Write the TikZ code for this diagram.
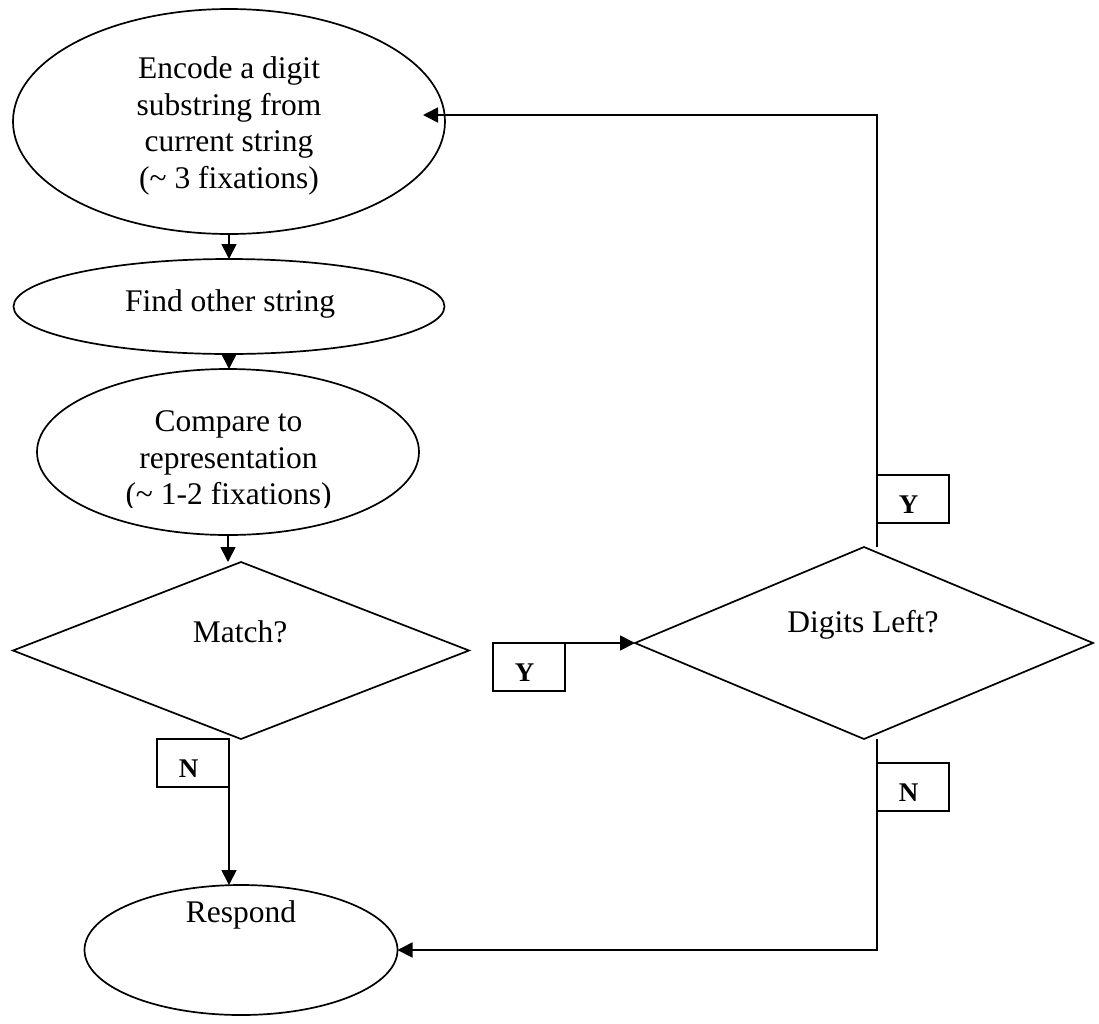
\documentclass[tikz,border=0pt]{standalone}
\usepackage{fontspec}
\setmainfont{Liberation Serif}
\usetikzlibrary{shapes.geometric,arrows.meta}
\begin{document}
\begin{tikzpicture}[x=1pt,y=-1pt,
  line width=1.7pt,
  shapebox/.style={draw, line width=1.7pt, inner sep=0pt, outer sep=0pt},
  ell/.style={shapebox, ellipse},
  dia/.style={shapebox, diamond},
  tag/.style={shapebox, rectangle, minimum width=72pt, minimum height=48pt,
    text height=38pt, text depth=10pt, font=\fontsize{27}{30}\selectfont\bfseries},
  txt/.style={inner sep=0pt, font=\fontsize{31.5}{36.5}\selectfont, align=center},
  flow/.style={line width=1.7pt, -{Triangle[length=15pt,width=15pt]}}
]
\useasboundingbox (0,0) rectangle (1099,1023);

% shapes
\node[ell, minimum width=432pt, minimum height=225pt] (enc) at (229,121.5) {};
\node[ell, minimum width=431pt, minimum height=95pt] (find) at (229,306.5) {};
\node[ell, minimum width=382pt, minimum height=166pt] (cmp) at (228,452) {};
\node[dia, minimum width=456pt, minimum height=177pt] (match) at (241,650.5) {};
\node[dia, minimum width=458pt, minimum height=192pt] (digits) at (864,643) {};
\node[ell, minimum width=313pt, minimum height=130pt] (resp) at (241,950) {};

% texts
\node[txt, anchor=north] (enct) at (229,48) {\rule{0pt}{30pt}Encode a digit\\substring from\\current string\\(\textasciitilde{} 3 fixations)};
\node[txt, anchor=base] (findt) at (230,311) {Find other string};
\begin{scope}
  \clip (0,380) rectangle (470,507);
  \node[txt, anchor=north] (cmpt) at (228.5,401) {\rule{0pt}{30pt}Compare to\\representation\\(\textasciitilde{} 1-2 fixations)};
\end{scope}
\node[txt, anchor=base] (matcht) at (240,642) {Match?};
\node[txt, anchor=base] (digitst) at (863,632) {Digits Left?};
\node[txt, anchor=base] (respt) at (241,922) {Respond};

% answer tags
\node[tag] (yA) at (529,667) {Y\kern9pt};
\node[tag] (yB) at (913,499) {Y\kern9pt};
\node[tag] (nA) at (193,763) {N\kern9pt};
\node[tag] (nB) at (913,787) {N\kern9pt};

% connectors
\coordinate (encin) at (423,115);
\draw[flow] (enc.south) -- (enc.south |- find.north);
\draw[flow] (find.south) -- (find.south |- cmp.north);
\draw[flow] (cmp.south) -- (cmp.south |- match.north);
\draw[flow] (nA.north east) -- (nA.north east |- resp.north);
\draw[flow] (yA.north east) -- (digits.west);
\draw[flow] (yB.west |- digits.north) -- (yB.west |- encin) -- (encin);
\draw[flow] (yB.west |- digits.south) -- (yB.west |- resp.east) -- (resp.east);
\end{tikzpicture}
\end{document}
